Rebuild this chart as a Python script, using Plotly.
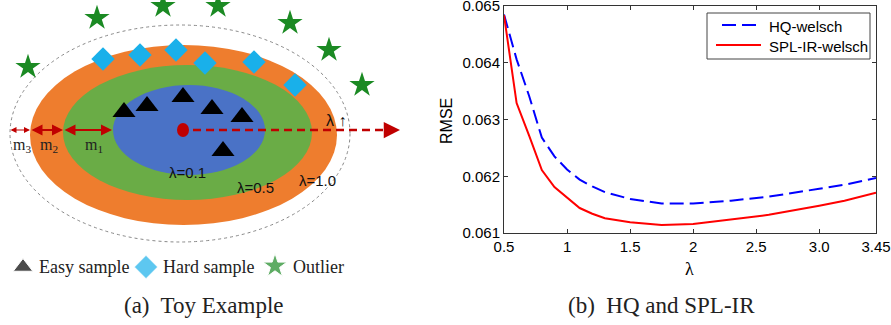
import plotly.graph_objects as go

# ---------------- data: right panel ----------------
lam = [0.5, 0.6, 0.7, 0.8, 0.9, 1.0, 1.1, 1.2, 1.3, 1.5, 1.75, 2.0, 2.3, 2.6, 3.0, 3.2, 3.45]
hq_welsch = [0.06485, 0.06406, 0.06341, 0.06268, 0.06235, 0.06212, 0.06194, 0.06182, 0.06172,
             0.06160, 0.06152, 0.06152, 0.06157, 0.06164, 0.06178, 0.06185, 0.06197]
spl_ir_welsch = [0.06484, 0.06329, 0.06271, 0.06211, 0.06181, 0.06162, 0.06144, 0.06134, 0.06126,
                 0.06119, 0.06114, 0.06116, 0.06124, 0.06132, 0.06148, 0.06157, 0.06171]
series_names = ["HQ-welsch", "SPL-IR-welsch"]
x_tickvals = [0.5, 1, 1.5, 2, 2.5, 3.0, 3.45]
x_ticktext = ["0.5", "1", "1.5", "2", "2.5", "3.0", "3.45"]
y_tickvals = [0.061, 0.062, 0.063, 0.064, 0.065]
y_ticktext = ["0.061", "0.062", "0.063", "0.064", "0.065"]

# ---------------- data: left panel (toy diagram, page-pixel coordinates) ----------------
easy_x = [124, 147, 183, 212, 242, 223]
easy_y = [112, 106, 97, 109, 117, 151]
hard_x = [103, 140, 176, 205, 254, 295]
hard_y = [59, 55, 50, 63, 62, 85]
out_x = [28, 97, 163, 218, 290, 329, 362]
out_y = [67, 18, 6, 6, 23, 50, 85]
legend_labels = ["Easy sample", "Hard sample", "Outlier"]
lambda_labels = ["λ=0.1", "λ=0.5", "λ=1.0"]
m_labels = ["m<sub>1</sub>", "m<sub>2</sub>", "m<sub>3</sub>"]

SERIF = "Liberation Serif"
SANS = "Liberation Sans"
BLUE = "#0000ff"
RED = "#ff0000"
BLUE_DASH = "14px,6px"

fig = go.Figure()

# right panel traces
fig.add_trace(go.Scatter(x=lam, y=hq_welsch, mode="lines", name=series_names[0],
                         line=dict(color=BLUE, width=2, dash=BLUE_DASH),
                         xaxis="x", yaxis="y"))
fig.add_trace(go.Scatter(x=lam, y=spl_ir_welsch, mode="lines", name=series_names[1],
                         line=dict(color=RED, width=2),
                         xaxis="x", yaxis="y"))

# left panel markers
fig.add_trace(go.Scatter(x=easy_x, y=easy_y, mode="markers", showlegend=False,
                         marker=dict(symbol="triangle-up", size=20, color="black"),
                         xaxis="x2", yaxis="y2"))
fig.add_trace(go.Scatter(x=hard_x, y=hard_y, mode="markers", showlegend=False,
                         marker=dict(symbol="diamond", size=18, color="#19b0ea"),
                         xaxis="x2", yaxis="y2"))
fig.add_trace(go.Scatter(x=out_x, y=out_y, mode="markers", showlegend=False,
                         marker=dict(symbol="star", size=19, color="#1b8a23"),
                         xaxis="x2", yaxis="y2"))
# legend symbols at bottom of left panel
fig.add_trace(go.Scatter(x=[23, 146, 275], y=[267, 267, 266], mode="markers", showlegend=False,
                         marker=dict(symbol=["triangle-up", "diamond", "star"], size=[17, 18, 18],
                                     color=["black", "#19b0ea", "#1b8a23"]),
                         xaxis="x2", yaxis="y2"))

shapes = []
# outer dotted ellipse
shapes.append(dict(type="circle", xref="x2", yref="y2", x0=10, x1=350, y0=25, y1=242,
                   line=dict(color="#888888", width=1, dash="dot"), fillcolor="rgba(0,0,0,0)",
                   layer="below"))
shapes.append(dict(type="circle", xref="x2", yref="y2", x0=30, x1=337, y0=45, y1=225,
                   line=dict(width=0), fillcolor="#ee7d2e", layer="below"))
shapes.append(dict(type="circle", xref="x2", yref="y2", x0=63, x1=312, y0=65, y1=200,
                   line=dict(width=0), fillcolor="#6aac46", layer="below"))
shapes.append(dict(type="circle", xref="x2", yref="y2", x0=113, x1=265, y0=85, y1=175,
                   line=dict(width=0), fillcolor="#4a72c6", layer="below"))
# red center dot
shapes.append(dict(type="circle", xref="x2", yref="y2", x0=177, x1=189, y0=123, y1=137,
                   line=dict(width=0), fillcolor="#c00000"))
# dashed arrow line
shapes.append(dict(type="line", xref="x2", yref="y2", x0=193, x1=392, y0=130, y1=130,
                   line=dict(color="#c00000", width=2.5, dash="8px,5px")))

# legend box of right panel (MATLAB style)
shapes.append(dict(type="rect", xref="x2", yref="y2", x0=707, x1=870, y0=13, y1=59,
                   line=dict(color="#444444", width=1), fillcolor="white", layer="above"))
shapes.append(dict(type="line", xref="x2", yref="y2", x0=722, x1=761, y0=25, y1=25,
                   line=dict(color=BLUE, width=2, dash=BLUE_DASH), layer="above"))
shapes.append(dict(type="line", xref="x2", yref="y2", x0=716, x1=761, y0=45, y1=45,
                   line=dict(color=RED, width=2), layer="above"))

annotations = []
for name, yp in zip(series_names, [26, 46]):
    annotations.append(dict(x=767, y=yp, xref="x2", yref="y2", text=name, showarrow=False,
                            xanchor="left", font=dict(family=SANS, size=15, color="black")))
# dashed arrow head
annotations.append(dict(x=400, y=130, ax=390, ay=130, xref="x2", yref="y2", axref="x2", ayref="y2",
                        showarrow=True, arrowhead=2, arrowsize=1.3, arrowwidth=2.5,
                        arrowcolor="#c00000", text=""))
# double-headed arrows m1, m2, m3
for xa, xb in [(63, 112), (30, 63), (9, 30)]:
    annotations.append(dict(x=xb, y=130, ax=xa, ay=130, xref="x2", yref="y2", axref="x2", ayref="y2",
                            showarrow=True, arrowhead=2, startarrowhead=2, arrowside="end+start",
                            arrowsize=1.0, startarrowsize=1.0,
                            arrowwidth=2.2 if xa != 9 else 1.2,
                            arrowcolor="#c00000", text=""))
for lbl, xp in zip(m_labels, [94, 49, 22]):
    annotations.append(dict(x=xp, y=145, xref="x2", yref="y2", text=lbl, showarrow=False,
                            font=dict(family=SERIF, size=16, color="#222222")))
# lambda labels
for lbl, xp, yp in zip(lambda_labels, [187, 255, 317], [172, 187, 180]):
    annotations.append(dict(x=xp, y=yp, xref="x2", yref="y2", text=lbl, showarrow=False,
                            font=dict(family=SANS, size=15, color="#111111")))
annotations.append(dict(x=336, y=120, xref="x2", yref="y2", text="λ ↑", showarrow=False,
                        font=dict(family=SANS, size=16, color="#111111")))
# bottom legend text
for lbl, xp in zip(legend_labels, [37, 161, 291]):
    annotations.append(dict(x=xp, y=267, xref="x2", yref="y2", text=lbl, showarrow=False,
                            xanchor="left", font=dict(family=SERIF, size=18, color="#222222")))
# captions
annotations.append(dict(x=204, y=305, xref="x2", yref="y2", text="(a)  Toy Example", showarrow=False,
                        font=dict(family=SERIF, size=23, color="#222222")))
annotations.append(dict(x=661, y=305, xref="x2", yref="y2", text="(b)  HQ and SPL-IR", showarrow=False,
                        font=dict(family=SERIF, size=23, color="#222222")))
# axis titles
annotations.append(dict(x=446, y=121, xref="x2", yref="y2", text="RMSE", showarrow=False, textangle=-90,
                        font=dict(family=SANS, size=16, color="black")))
annotations.append(dict(x=689, y=269, xref="x2", yref="y2", text="λ", showarrow=False,
                        font=dict(family=SERIF, size=18, color="black")))

axis_common = dict(showgrid=False, zeroline=False, showline=True, linecolor="#333333", linewidth=1,
                   mirror="ticks", ticks="inside", ticklen=4, tickcolor="#333333", automargin=False,
                   ticklabeloverflow="allow",
                   tickfont=dict(family=SANS, size=15, color="black"))

fig.update_layout(
    width=891, height=325,
    margin=dict(l=0, r=0, t=0, b=0),
    paper_bgcolor="white", plot_bgcolor="rgba(0,0,0,0)",
    xaxis=dict(domain=[504 / 891, 876 / 891], range=[0.5, 3.45], tickvals=x_tickvals,
               ticktext=x_ticktext, anchor="y", **axis_common),
    yaxis=dict(domain=[(325 - 233) / 325, (325 - 6) / 325], range=[0.061, 0.065], tickvals=y_tickvals,
               ticktext=y_ticktext, anchor="x", **axis_common),
    xaxis2=dict(domain=[0, 1], range=[0, 891], visible=False, anchor="y2", automargin=False),
    yaxis2=dict(domain=[0, 1], range=[325, 0], visible=False, anchor="x2", automargin=False),
    shapes=shapes,
    annotations=annotations,
    showlegend=False,
)

fig.write_html("out.html", config={"displayModeBar": False},
               post_script="document.body.style.margin='0px';")
